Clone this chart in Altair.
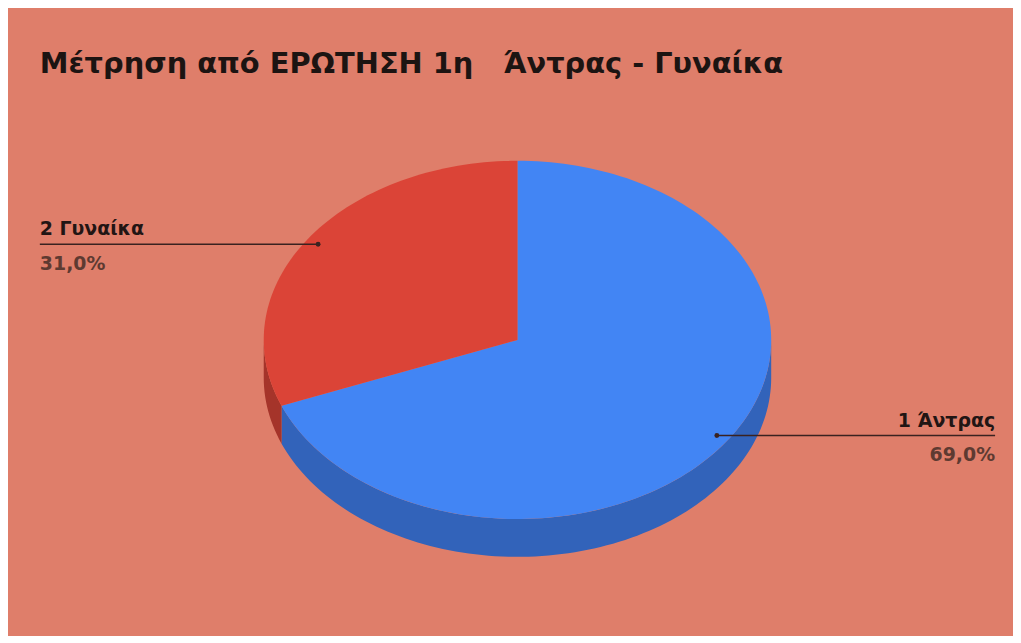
import altair as alt
import numpy as np
import pandas as pd

# ---- data ----
categories = ["1 Άντρας", "2 Γυναίκα"]
values = [69.0, 31.0]
pct_labels = ["69,0%", "31,0%"]
title_text = "Μέτρηση από ΕΡΩΤΗΣΗ 1η\u00a0\u00a0\u00a0Άντρας - Γυναίκα"

# ---- layout / style constants ----
W, H = 1010, 628
CX, CY, RX, RY, DEPTH = 512, 332, 255, 180, 38
LABEL_K = 0.95
LEFT_X, RIGHT_X = 32, 992
BG = "#DF7E6A"
TOP_COLORS = ["#4285F4", "#DB4437"]
SIDE_COLORS = ["#3263BA", "#A5342A"]
FONT = "DejaVu Sans"

fracs = np.array(values) / sum(values)
ends = np.cumsum(fracs) * 2 * np.pi
starts = ends - fracs * 2 * np.pi


def ell(t):
    return CX + RX * np.sin(t), CY - RY * np.cos(t)


rows = []
for cat, a0, a1 in zip(categories, starts, ends):
    n = max(int(240 * (a1 - a0) / (2 * np.pi)), 2)
    ts = np.linspace(a0, a1, n + 1)
    pts = [(CX, CY)] + [ell(t) for t in ts] + [(CX, CY)]
    for i, (x, y) in enumerate(pts):
        rows.append(dict(key=cat, part="top", i=i, x=x, y=y))
    s0, s1 = max(a0, np.pi / 2), min(a1, 1.5 * np.pi)
    if s1 > s0:
        n = max(int(240 * (s1 - s0) / (2 * np.pi)), 2)
        ts = np.linspace(s0, s1, n + 1)
        upper = [ell(t) for t in ts]
        lower = [(x, y + DEPTH) for x, y in reversed(upper)]
        for i, (x, y) in enumerate(upper + lower + [upper[0]]):
            rows.append(dict(key=cat + " side", part="side", i=i, x=x, y=y))
poly = pd.DataFrame(rows)

lab_rows = []
for cat, pct, a0, a1 in zip(categories, pct_labels, starts, ends):
    mid = (a0 + a1) / 2
    px = CX + LABEL_K * RX * np.sin(mid)
    py = CY - LABEL_K * RY * np.cos(mid)
    side = "right" if np.sin(mid) > 0 else "left"
    lab_rows.append(dict(cat=cat, pct=pct, px=px, py=py, side=side,
                         ex=RIGHT_X if side == "right" else LEFT_X))
labs = pd.DataFrame(lab_rows)

xs = alt.Scale(domain=[0, W], nice=False, zero=False)
ys = alt.Scale(domain=[0, H], nice=False, zero=False, reverse=True)
cscale = alt.Scale(domain=categories + [c + " side" for c in categories],
                   range=TOP_COLORS + SIDE_COLORS)

pbase = alt.Chart(poly)
enc = dict(
    x=alt.X("x:Q", scale=xs, axis=None),
    y=alt.Y("y:Q", scale=ys, axis=None),
    color=alt.Color("key:N", scale=cscale, legend=None),
    detail="key:N",
    order="i:Q",
)
sides = pbase.transform_filter(alt.datum.part == "side").mark_line(
    filled=True, strokeWidth=0).encode(**enc)
tops = pbase.transform_filter(alt.datum.part == "top").mark_line(
    filled=True, strokeWidth=0).encode(**enc)

lbase = alt.Chart(labs)
lx = alt.X("px:Q", scale=xs, axis=None)
ly = alt.Y("py:Q", scale=ys, axis=None)
rules = lbase.mark_rule(color="#3a2220", strokeWidth=1.4).encode(
    x=lx, x2="ex:Q", y=ly)
dots = lbase.mark_circle(color="#3a2220", size=24, opacity=1).encode(x=lx, y=ly)

text_layers = []
for side in ["left", "right"]:
    sb = lbase.transform_filter(alt.datum.side == side)
    tx = alt.X("ex:Q", scale=xs, axis=None)
    text_layers.append(sb.mark_text(align=side, baseline="alphabetic", dy=-9,
                                    font=FONT, fontSize=19, fontWeight="bold",
                                    color="#221514").encode(x=tx, y=ly, text="cat:N"))
    text_layers.append(sb.mark_text(align=side, baseline="alphabetic", dy=26,
                                    font=FONT, fontSize=19, fontWeight="bold",
                                    color="#5e3a31").encode(x=tx, y=ly, text="pct:N"))

title = alt.Chart(pd.DataFrame({"t": [title_text]})).mark_text(
    align="left", baseline="alphabetic", font=FONT, fontSize=29,
    fontWeight="bold", color="#1c1412").encode(
    x=alt.value(32), y=alt.value(64), text="t:N")

chart = alt.layer(sides, tops, rules, dots, *text_layers, title).properties(
    width=W, height=H, background=BG, padding=0,
    autosize=alt.AutoSizeParams(type="none"),
).configure_view(stroke=None)

chart.save("out.html", embed_options={"renderer": "svg", "actions": False})
